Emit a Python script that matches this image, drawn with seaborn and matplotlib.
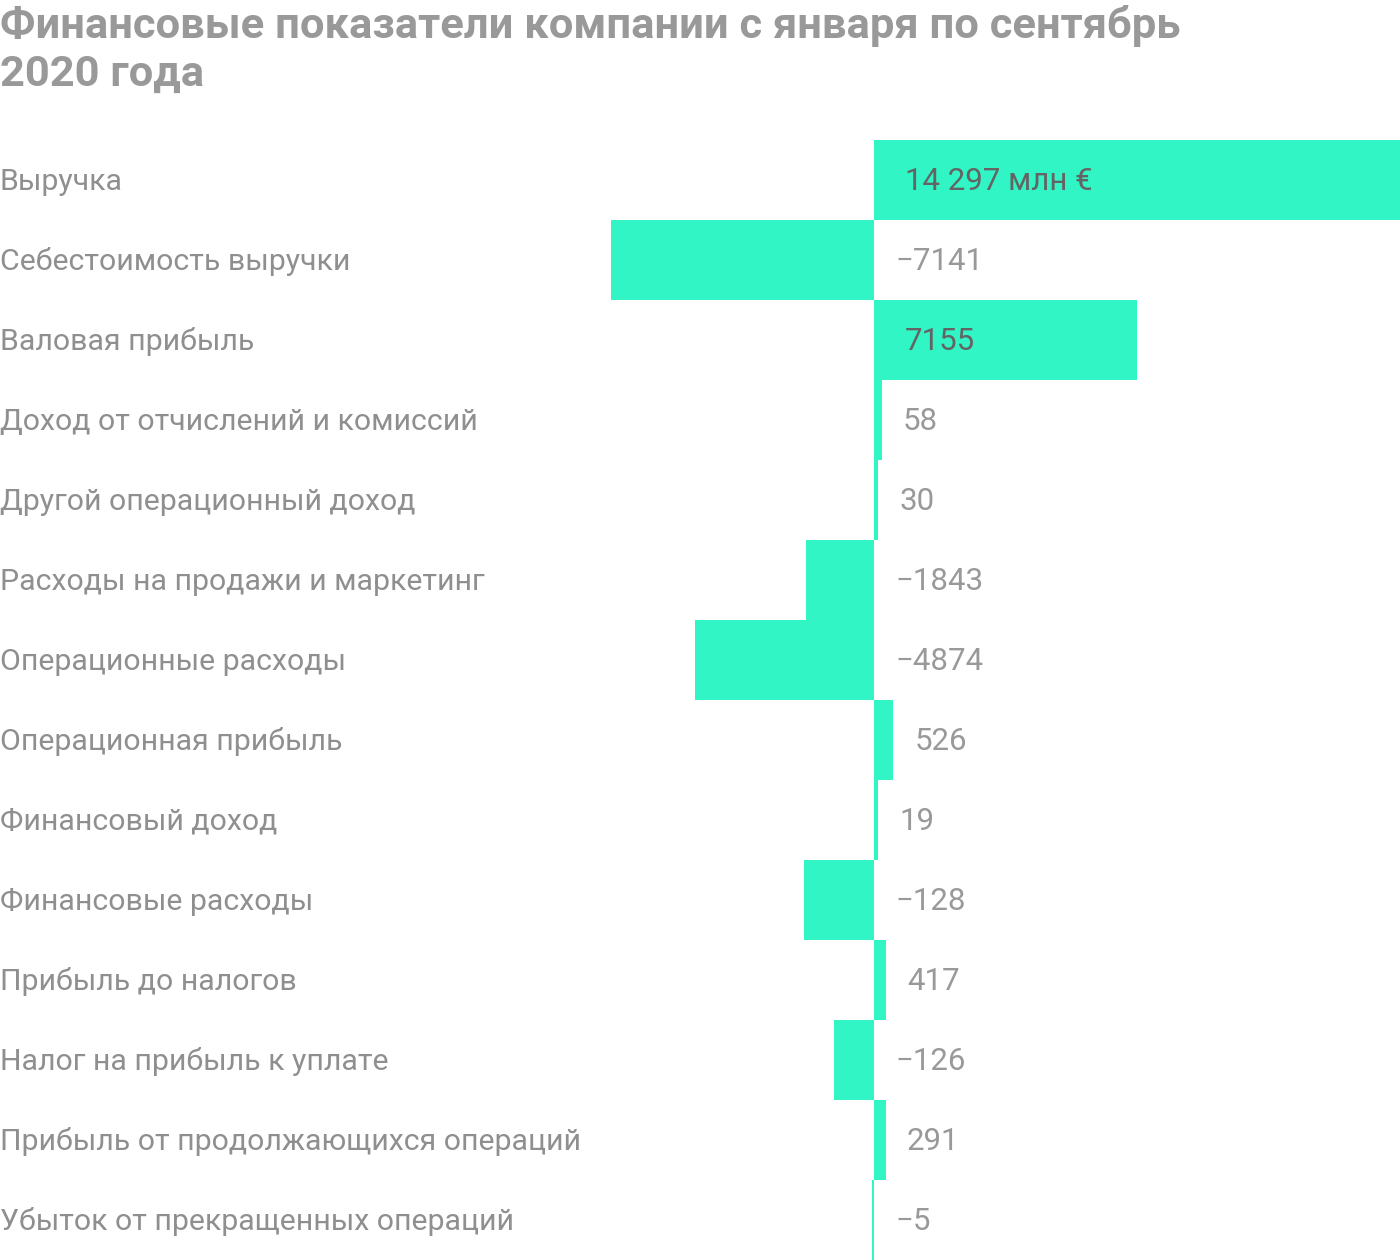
import matplotlib
matplotlib.use("Agg")
import matplotlib.pyplot as plt
import seaborn as sns
import pandas as pd

# ---- data -------------------------------------------------------------
categories = [
    "Выручка",
    "Себестоимость выручки",
    "Валовая прибыль",
    "Доход от отчислений и комиссий",
    "Другой операционный доход",
    "Расходы на продажи и маркетинг",
    "Операционные расходы",
    "Операционная прибыль",
    "Финансовый доход",
    "Финансовые расходы",
    "Прибыль до налогов",
    "Налог на прибыль к уплате",
    "Прибыль от продолжающихся операций",
    "Убыток от прекращенных операций",
]
# values printed next to the bars (млн €)
value_labels = ["14 297 млн €", "−7141", "7155", "58", "30", "−1843", "−4874",
                "526", "19", "−128", "417", "−126", "291", "−5"]
# bar lengths as drawn in the picture (млн €, same scale)
bar_lengths = [14297, -7141, 7155, 217, 109, -1843, -4874,
               526, 109, -1903, 326, -1087, 326, -54]
title = "Финансовые показатели компании с января по сентябрь\n2020 года"

# ---- style ------------------------------------------------------------
sns.set_theme(style="white")
plt.rcParams["font.family"] = ["Roboto", "DejaVu Sans"]

W, H, DPI = 1400, 1260, 100
fig = plt.figure(figsize=(W / DPI, H / DPI), dpi=DPI)
ax = fig.add_axes([0, 0, 1, 1120 / H])

df = pd.DataFrame({"cat": categories, "val": bar_lengths})
BAR = "#31F5C5"
sns.barplot(data=df, x="val", y="cat", orient="h", color=BAR, saturation=1,
            width=1.0, linewidth=0, edgecolor="none", ax=ax)

zero_px = 874
right = 14297
scale = right / (W - zero_px)
ax.set_xlim(-zero_px * scale, right)
ax.set_ylim(len(categories) - 0.5, -0.5)
ax.axis("off")

for i, (cat, v, lab) in enumerate(zip(categories, bar_lengths, value_labels)):
    ax.annotate(cat, xy=(0, i), xycoords=ax.get_yaxis_transform(),
                xytext=(0, -2), textcoords="offset pixels", ha="left",
                va="center", fontsize=21.8, color="#8f8f8f")
    if v > 5000:
        x, off, col = 0, 31, "#646464"
    else:
        x, off, col = max(v, 0), 21, "#999999"
    ax.annotate(lab, xy=(x, i), xytext=(off, -2), textcoords="offset pixels",
                ha="left", va="center", fontsize=22.5, color=col)

fig.text(0, 1 - 5 / H, title, ha="left", va="top", fontsize=31.3,
         fontweight="bold", color="#999999", linespacing=1.22)

fig.savefig("out.png", dpi=DPI)
